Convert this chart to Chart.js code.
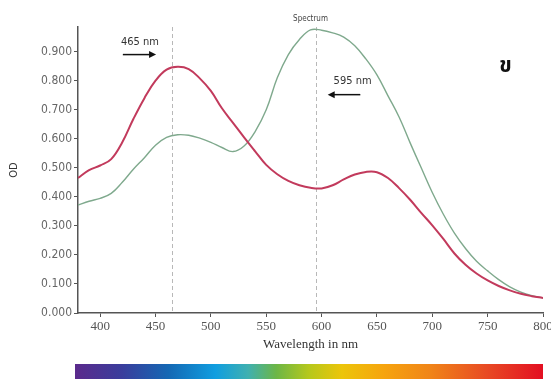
<!DOCTYPE html>
<html>
<head>
<meta charset="utf-8">
<script src="https://cdn.jsdelivr.net/npm/chart.js@4.4.1/dist/chart.umd.min.js"></script>
<style>
  html, body { margin: 0; padding: 0; background: #fff; }
  #c { display: block; }
</style>
</head>
<body>
<canvas id="c" width="551" height="379"></canvas>
<script>
// ---- data ----
const wavelengths = [380,390,400,410,420,430,440,450,460,470,480,490,500,510,520,530,540,550,560,570,580,590,600,610,620,630,640,650,660,670,680,690,700,710,720,730,740,750,760,770,780,790,800];
const redOD = [0.465,0.492,0.508,0.530,0.588,0.668,0.740,0.800,0.838,0.848,0.840,0.808,0.765,0.705,0.655,0.605,0.557,0.510,0.478,0.455,0.440,0.431,0.429,0.440,0.460,0.477,0.486,0.485,0.465,0.430,0.390,0.345,0.302,0.255,0.205,0.166,0.136,0.112,0.093,0.078,0.066,0.058,0.052];
const greenOD = [0.372,0.385,0.395,0.412,0.450,0.495,0.535,0.578,0.605,0.614,0.612,0.602,0.588,0.570,0.556,0.575,0.625,0.700,0.810,0.890,0.942,0.975,0.974,0.965,0.950,0.920,0.875,0.820,0.748,0.675,0.586,0.500,0.415,0.340,0.275,0.222,0.178,0.145,0.115,0.090,0.072,0.060,0.052];
const markerWavelengths = [465, 595];
const markerLabels = ['465 nm', '595 nm'];
const chartTitle = 'Spectrum';
const xTitle = 'Wavelength in nm';
const yTitle = 'OD';
const cornerLabel = 'ข';

const toPoints = (xs, ys) => xs.map((x, i) => ({x: x, y: ys[i]}));

const overlay = {
  id: 'overlay',
  beforeDatasetsDraw(chart) {
    const {ctx, chartArea, scales} = chart;
    ctx.save();
    ctx.strokeStyle = '#b8b8b8';
    ctx.lineWidth = 1;
    ctx.setLineDash([4, 3]);
    markerWavelengths.forEach(w => {
      const px = Math.round(scales.x.getPixelForValue(w)) + 0.5;
      ctx.beginPath();
      ctx.moveTo(px, chartArea.top);
      ctx.lineTo(px, chartArea.bottom);
      ctx.stroke();
    });
    ctx.restore();
  },
  afterDraw(chart) {
    const {ctx, chartArea, scales} = chart;
    const X = v => scales.x.getPixelForValue(v);
    const Y = v => scales.y.getPixelForValue(v);
    ctx.save();
    ctx.textAlign = 'center';
    ctx.textBaseline = 'middle';
    // chart title, centred over the plot area
    ctx.fillStyle = '#444';
    ctx.font = '8px "Liberation Sans Narrow", "DejaVu Sans Condensed", sans-serif';
    ctx.fillText(chartTitle, (chartArea.left + chartArea.right) / 2, chartArea.top - 8);
    // annotation texts
    ctx.fillStyle = '#333';
    ctx.font = '11px "Liberation Sans Narrow", "DejaVu Sans Condensed", sans-serif';
    ctx.fillText(markerLabels[0], X(436), Y(0.934));
    ctx.fillText(markerLabels[1], X(628), Y(0.797));
    // arrows
    const arrow = (x1, x2, y) => {
      const d = Math.sign(x2 - x1);
      ctx.strokeStyle = '#111';
      ctx.fillStyle = '#111';
      ctx.lineWidth = 1.5;
      ctx.beginPath();
      ctx.moveTo(x1, y);
      ctx.lineTo(x2 - d * 5, y);
      ctx.stroke();
      ctx.beginPath();
      ctx.moveTo(x2, y);
      ctx.lineTo(x2 - d * 7, y - 3.5);
      ctx.lineTo(x2 - d * 7, y + 3.5);
      ctx.closePath();
      ctx.fill();
    };
    arrow(X(420.5), X(450.5), Y(0.89));
    arrow(X(635), X(605.5), Y(0.752));
    // corner letter
    ctx.fillStyle = '#111';
    ctx.font = 'bold 21px "Noto Sans Thai", "Noto Serif Thai", "Loma", "Garuda", "Tlwg Typo", sans-serif';
    ctx.fillText(cornerLabel, X(766), Y(0.845));
    // spectrum colour bar
    const left = chartArea.left - 3, right = chartArea.right, top = chart.height - 15;
    const g = ctx.createLinearGradient(left, 0, right, 0);
    g.addColorStop(0.00, '#5b2a8c');
    g.addColorStop(0.10, '#3a3d9c');
    g.addColorStop(0.20, '#1468b4');
    g.addColorStop(0.30, '#109ee0');
    g.addColorStop(0.37, '#3fb0b0');
    g.addColorStop(0.43, '#6cb646');
    g.addColorStop(0.50, '#b6c81c');
    g.addColorStop(0.57, '#ecc50a');
    g.addColorStop(0.66, '#f6a40e');
    g.addColorStop(0.76, '#f08418');
    g.addColorStop(0.88, '#e84a24');
    g.addColorStop(1.00, '#e30f22');
    ctx.fillStyle = g;
    ctx.fillRect(left, top, right - left, chart.height - top);
    ctx.restore();
  }
};

new Chart(document.getElementById('c'), {
  type: 'line',
  data: {
    datasets: [
      { data: toPoints(wavelengths, redOD), borderColor: '#c23a5c', borderWidth: 2, tension: 0.4, pointRadius: 0, fill: false },
      { data: toPoints(wavelengths, greenOD), borderColor: '#7fa98d', borderWidth: 1.4, tension: 0.4, pointRadius: 0, fill: false }
    ]
  },
  options: {
    responsive: false,
    animation: false,
    layout: { padding: { left: 0, right: 8, top: 27, bottom: 23 } },
    plugins: {
      legend: { display: false },
      tooltip: { enabled: false },
      title: { display: false }
    },
    scales: {
      x: {
        type: 'linear',
        min: 380, max: 800,
        border: { color: '#555', width: 1.5 },
        grid: { drawOnChartArea: false, tickLength: 4, color: '#555' },
        ticks: { stepSize: 50, includeBounds: false, color: '#555', padding: 2,
                 font: { family: '"Liberation Serif", "DejaVu Serif", serif', size: 13 } },
        title: { display: true, text: xTitle, color: '#333', padding: { top: 0, bottom: 4 },
                 font: { family: '"Liberation Serif", "DejaVu Serif", serif', size: 13 } },
        afterFit(s) { s.height = 43; s.paddingLeft = 0; s.paddingRight = 0; }
      },
      y: {
        min: 0, max: 0.985,
        border: { color: '#555', width: 1.5 },
        grid: { drawOnChartArea: false, tickLength: 4, color: '#555' },
        ticks: { stepSize: 0.1, includeBounds: false, color: '#666', padding: 2,
                 font: { family: '"Liberation Sans Narrow", "DejaVu Sans Condensed", sans-serif', size: 12 },
                 callback: v => Number(v).toFixed(3) },
        title: { display: true, text: yTitle, color: '#333', padding: { top: 8, bottom: 0 },
                 font: { family: '"Liberation Sans Narrow", "DejaVu Sans Condensed", sans-serif', size: 11 } },
        afterFit(s) { s.width = 78; s.paddingTop = 0; s.paddingBottom = 0; }
      }
    }
  },
  plugins: [overlay]
});
</script>
</body>
</html>
